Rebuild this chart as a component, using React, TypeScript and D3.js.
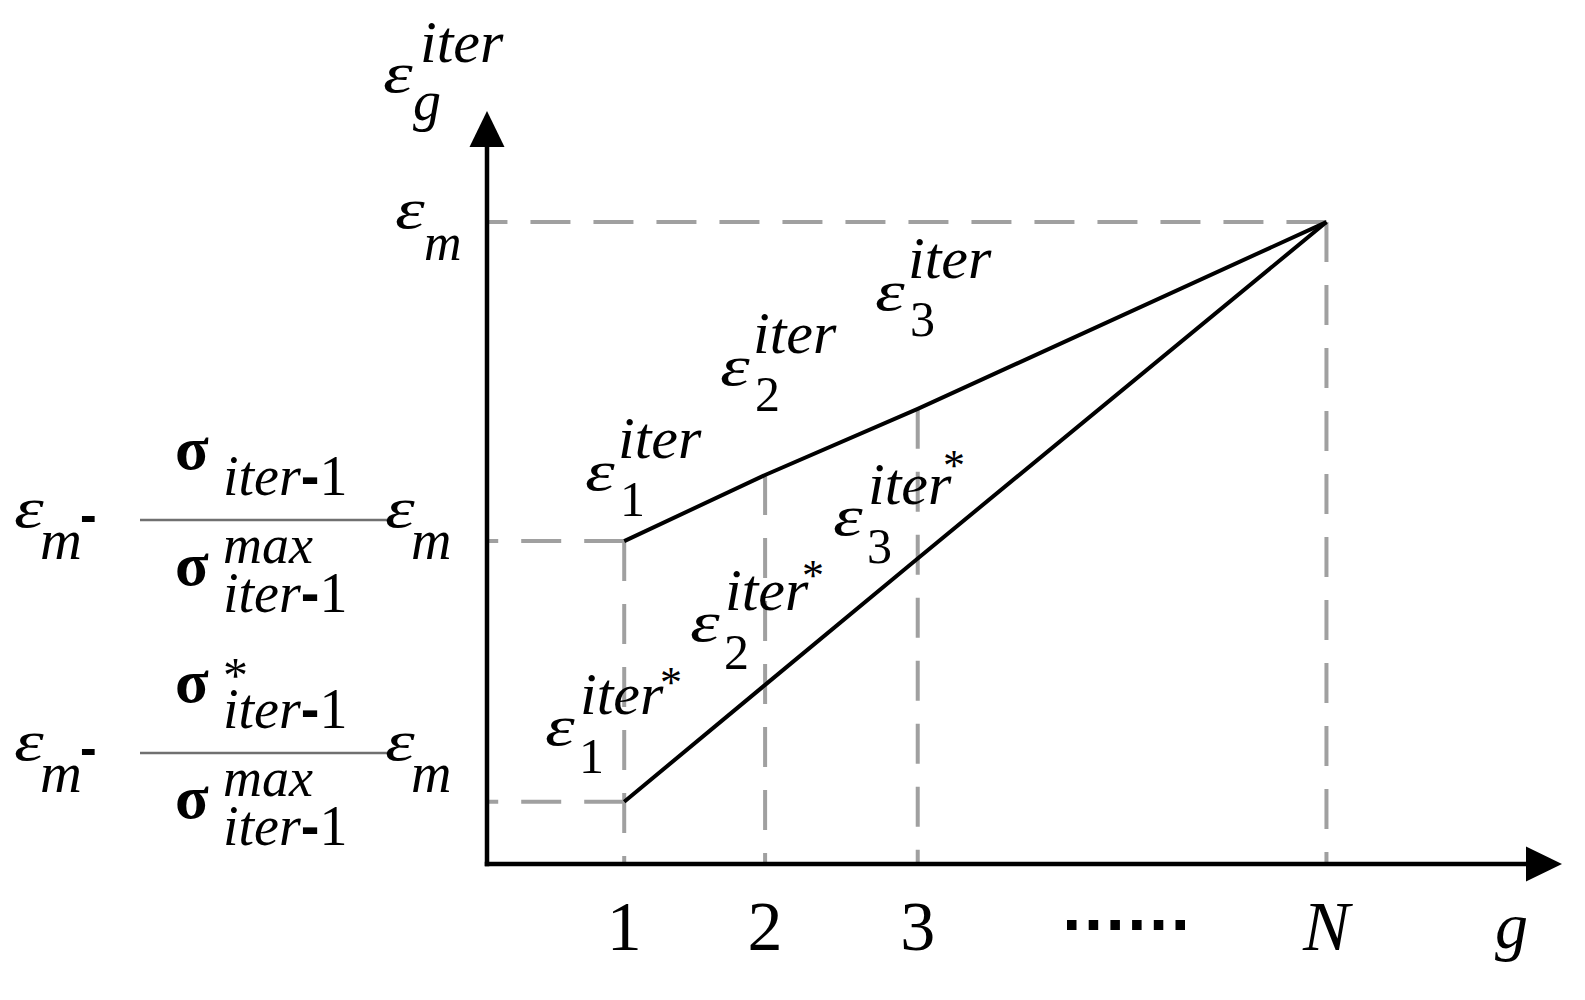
import * as d3 from "d3"

// positions on the g axis and their labels
const gLabels = ["1", "2", "3", "N"]
const gValues = [1, 1.96, 3, 5.785]

// epsilon values relative to eps_m = 1
const upperValues = [0.503, 0.606, 0.709, 1]
const lowerValues = [0.097, 0.279, 0.476, 1]
const epsMax = 1

// annotation anchors (pixel layout of the math labels)
const upperLabels = [
  { x: 585, y: 490, sub: "1" },
  { x: 720, y: 385, sub: "2" },
  { x: 875, y: 310, sub: "3" },
]
const lowerLabels = [
  { x: 545, y: 745, sub: "1", sx: 115, sy: 48 },
  { x: 690, y: 641, sub: "2", sx: 112, sy: 51 },
  { x: 833, y: 535, sub: "3", sx: 110, sy: 55 },
]

const W = 1585
const H = 1000
const sans = "Liberation Sans"
const dashColor = "#a0a0a0"

const xScale = d3.scaleLinear().domain([0.065, 7.39]).range([487, 1562])
const yScale = d3.scaleLinear().domain([0, 1.173]).range([864, 111])

const line = d3
  .line<number>()
  .x((d, i) => xScale(gValues[i]))
  .y((d) => yScale(d))

const Dash = ({ x1, y1, x2, y2 }) => (
  <line x1={x1} y1={y1} x2={x2} y2={y2} stroke={dashColor} strokeWidth={4} strokeDasharray="40,23" />
)

const it = { fontStyle: "italic" }

// the epsilon of the original is a wide, round glyph: stretch it a little
const Eps = ({ x, y, size = 58 }) => (
  <text transform={`translate(${x},${y}) scale(1.3,1)`} style={{ ...it, fontSize: size }}>
    ε
  </text>
)

const IterMinusOne = ({ x, y }) => (
  <text x={x} y={y} style={{ fontSize: 56 }}>
    <tspan style={it}>iter</tspan>
    <tspan style={{ fontFamily: sans, fontWeight: "bold" }}>-</tspan>
    <tspan>1</tspan>
  </text>
)

// one left-side label: eps_m - (sigma / sigma_max) eps_m
const FracLabel = ({ dy, star }) => (
  <g transform={`translate(0,${dy})`}>
    <Eps x={14} y={527} />
    <text x={40} y={559} style={{ ...it, fontSize: 58 }}>m</text>
    <text x={80} y={532} style={{ fontFamily: sans, fontWeight: "bold", fontSize: 50 }}>-</text>
    <line x1={140} x2={387} y1={520} y2={520} stroke="#707070" strokeWidth={2.5} />
    <text x={175} y={469} style={{ fontWeight: "bold", fontSize: 62 }}>σ</text>
    {star && <text x={223} y={459} style={{ fontSize: 50 }}>*</text>}
    <IterMinusOne x={223} y={495} />
    <text x={175} y={585} style={{ fontWeight: "bold", fontSize: 62 }}>σ</text>
    <text x={223} y={563} style={{ ...it, fontSize: 54 }}>max</text>
    <IterMinusOne x={223} y={612} />
    <Eps x={385} y={527} />
    <text x={411} y={559} style={{ ...it, fontSize: 56 }}>m</text>
  </g>
)

export default function App() {
  const x0 = xScale(0.065)
  const y0 = yScale(0)
  const xEnd = xScale(7.39)
  const yEnd = yScale(1.173)
  const xN = xScale(gValues[3])
  const yM = yScale(epsMax)

  return (
    <svg
      width={W}
      height={H}
      style={{ position: "absolute", left: 0, top: 0, background: "#fff", fontFamily: "'Liberation Serif', 'Times New Roman', serif" }}
    >
      {/* dashed guides, drawn from the data points toward the axes */}
      <Dash x1={xN} y1={yM} x2={x0} y2={yM} />
      <Dash x1={xN} y1={yM} x2={xN} y2={y0} />
      <Dash x1={xScale(gValues[0])} y1={yScale(upperValues[0])} x2={x0} y2={yScale(upperValues[0])} />
      <Dash x1={xScale(gValues[0])} y1={yScale(lowerValues[0])} x2={x0} y2={yScale(lowerValues[0])} />
      {[0, 1, 2].map((i) => (
        <Dash key={i} x1={xScale(gValues[i])} y1={yScale(upperValues[i])} x2={xScale(gValues[i])} y2={y0} />
      ))}

      {/* the two lines */}
      <path d={line(upperValues)} fill="none" stroke="#000" strokeWidth={4} strokeLinejoin="round" />
      <path d={line(lowerValues)} fill="none" stroke="#000" strokeWidth={4} strokeLinejoin="round" />

      {/* axes with arrows */}
      <line x1={x0} y1={y0} x2={xEnd - 34} y2={y0} stroke="#000" strokeWidth={4.5} strokeLinecap="square" />
      <line x1={x0} y1={y0} x2={x0} y2={yEnd + 34} stroke="#000" strokeWidth={4.5} strokeLinecap="square" />
      <polygon points={`${xEnd},${y0} ${xEnd - 36},${y0 - 17.5} ${xEnd - 36},${y0 + 17.5}`} fill="#000" />
      <polygon points={`${x0},${yEnd} ${x0 - 17.5},${yEnd + 36} ${x0 + 17.5},${yEnd + 36}`} fill="#000" />

      {/* tick labels */}
      {gLabels.map((t, i) => (
        <text
          key={t}
          x={xScale(gValues[i])}
          y={950}
          textAnchor="middle"
          style={{ fontStyle: t === "N" ? "italic" : "normal", fontSize: 70 }}
        >
          {t}
        </text>
      ))}
      <line x1={1067} x2={1197} y1={925} y2={925} stroke="#000" strokeWidth={10} strokeDasharray="9.5,12.2" />
      <text x={1495} y={948} style={{ ...it, fontSize: 66 }}>g</text>

      {/* y axis title */}
      <Eps x={383} y={92} />
      <text x={420} y={62} style={{ ...it, fontSize: 60 }}>iter</text>
      <text x={413} y={120} style={{ ...it, fontSize: 56 }}>g</text>

      {/* eps_m tick */}
      <Eps x={395} y={228} />
      <text x={424} y={260} style={{ ...it, fontSize: 52 }}>m</text>

      {/* left fraction labels */}
      <FracLabel dy={0} star={false} />
      <FracLabel dy={233} star={true} />

      {/* labels on the upper line */}
      {upperLabels.map((l) => (
        <g key={"u" + l.sub}>
          <Eps x={l.x} y={l.y} />
          <text x={l.x + 33} y={l.y - 32} style={{ ...it, fontSize: 60 }}>iter</text>
          <text x={l.x + 35} y={l.y + 26} style={{ fontSize: 50 }}>{l.sub}</text>
        </g>
      ))}

      {/* labels on the lower line */}
      {lowerLabels.map((l) => (
        <g key={"l" + l.sub}>
          <Eps x={l.x} y={l.y} />
          <text x={l.x + 35} y={l.y - 31} style={{ ...it, fontSize: 60 }}>iter</text>
          <text x={l.x + l.sx} y={l.y - l.sy} style={{ fontSize: 44 }}>*</text>
          <text x={l.x + 34} y={l.y + 28} style={{ fontSize: 50 }}>{l.sub}</text>
        </g>
      ))}
    </svg>
  )
}
